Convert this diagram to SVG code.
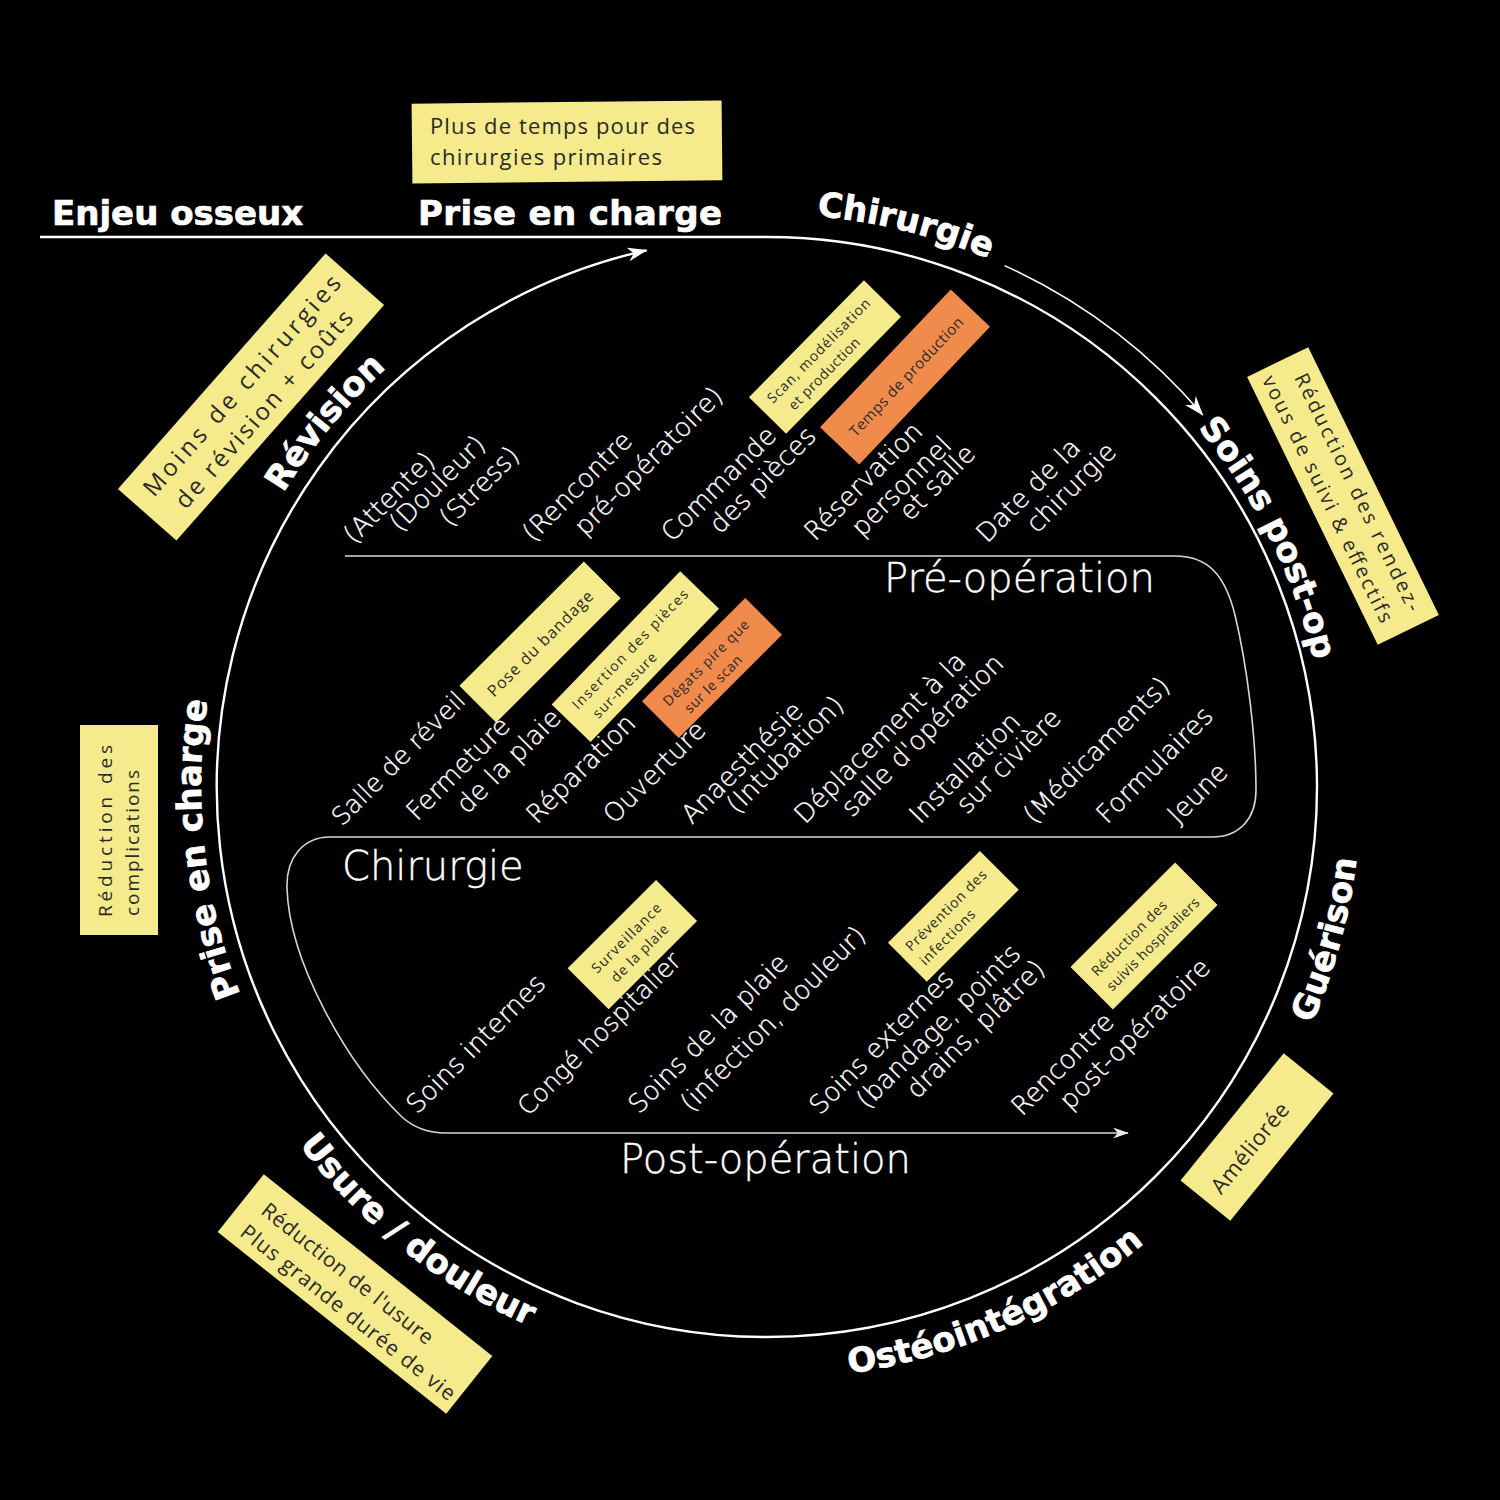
<svg xmlns="http://www.w3.org/2000/svg" width="1500" height="1500" viewBox="0 0 1500 1500">
<style>
.d{font-family:"DejaVu Sans","Liberation Sans",sans-serif;font-weight:200;font-size:26px;fill:#fff;stroke:#fff;stroke-width:0.35px}
.big{font-family:"DejaVu Sans","Liberation Sans",sans-serif;font-weight:200;font-size:40px;fill:#fff;stroke:#fff;stroke-width:0.4px}
.ttl{font-family:"DejaVu Sans","Liberation Sans",sans-serif;font-weight:700;font-size:34px;fill:#fff;stroke:#fff;stroke-width:0.7px}
.y{fill:#f6eb8c}
.o{fill:#f08b4b}
.nt{font-family:"Open Sans","Liberation Sans",sans-serif;font-weight:400;fill:#2a2a2a}
.ln{fill:none;stroke:#fff}
</style>
<defs>
<marker id="ah" viewBox="0 0 20 14" refX="19" refY="7" markerWidth="20" markerHeight="14" orient="auto" markerUnits="userSpaceOnUse"><path d="M0,0 L20,7 L0,14 L6,7 z" fill="#fff"/></marker>
<marker id="ahs" viewBox="0 0 20 14" refX="19" refY="7" markerWidth="16" markerHeight="11" orient="auto" markerUnits="userSpaceOnUse"><path d="M0,0 L20,7 L0,14 L6,7 z" fill="#e6e6e6"/></marker>
<path id="pChir" d="M816.9,216.2 A573,573 0 0 1 1095.7,317.6"/>
<path id="pSoins" d="M1198,427.9 A561,561 0 0 1 1328,787"/>
<path id="pGuer" d="M1311.8,1023.8 A594,594 0 0 0 1352,683.9"/>
<path id="pOst" d="M849.4,1373.3 A592,592 0 0 0 1220.5,1167.5"/>
<path id="pUsure" d="M299.1,1144.8 A589,589 0 0 0 664.7,1367"/>
<path id="pPrise" d="M240.4,994.4 A566,566 0 0 1 235.1,593.4"/>
<path id="pRev" d="M283.4,493 A566,566 0 0 1 484,296.8"/>
</defs>
<rect width="1500" height="1500" fill="#000"/>

<g id="connectors">
<path class="ln" stroke-width="2.4" d="M40,237 H767 A550,550 0 0 1 1317,787 A550,550 0 0 1 767,1337 A550,550 0 0 1 646.5,250.3" marker-end="url(#ah)"/>
<path class="ln" stroke-width="1.5" d="M1004.6,265.6 A573,573 0 0 1 1202.7,414.9" marker-end="url(#ah)"/>
<path fill="none" stroke="#d8d8d8" stroke-width="1.6" d="M345,556 H1175 C1208,556 1225,575 1235,615 C1248,670 1256,740 1256,790 C1256,818 1240,837 1212,837 H330 C303,837 286,858 287,888 C289,960 345,1062 402,1117 C414,1128 428,1133 446,1133 H1128" marker-end="url(#ahs)"/>
</g>

<g id="titles">
<text class="ttl" x="52" y="225">Enjeu osseux</text>
<text class="ttl" x="418" y="225" textLength="304">Prise en charge</text>
<text class="ttl"><textPath href="#pChir">Chirurgie</textPath></text>
<text class="ttl"><textPath href="#pSoins">Soins post-op</textPath></text>
<text class="ttl"><textPath href="#pGuer">Guérison</textPath></text>
<text class="ttl"><textPath href="#pOst">Ostéointégration</textPath></text>
<text class="ttl"><textPath href="#pUsure">Usure / douleur</textPath></text>
<text class="ttl"><textPath href="#pPrise">Prise en charge</textPath></text>
<text class="ttl"><textPath href="#pRev">Révision</textPath></text>
</g>

<g id="phases">
<text class="big" x="884" y="592">Pré-opération</text>
<text class="big" x="342" y="880">Chirurgie</text>
<text class="big" x="620" y="1173">Post-opération</text>
</g>

<g id="preop-steps">
<text class="d" transform="translate(354,545) rotate(-45)">(Attente)</text>
<text class="d" transform="translate(400,533) rotate(-45)">(Douleur)</text>
<text class="d" transform="translate(450,528) rotate(-45)">(Stress)</text>
<text class="d" transform="translate(533,543) rotate(-45)">(Rencontre</text>
<text class="d" transform="translate(585,537) rotate(-45)">pré-opératoire)</text>
<text class="d" transform="translate(672,543) rotate(-45)">Commande</text>
<text class="d" transform="translate(720,535) rotate(-45)">des pièces</text>
<text class="d" transform="translate(815,542) rotate(-45)">Réservation</text>
<text class="d" transform="translate(862,538) rotate(-45)">personnel</text>
<text class="d" transform="translate(910,522) rotate(-45)">et salle</text>
<text class="d" transform="translate(987,544) rotate(-45)">Date de la</text>
<text class="d" transform="translate(1037,534) rotate(-45)">chirurgie</text>
</g>

<g id="chir-steps">
<text class="d" font-size="25" style="font-size:25px" transform="translate(342,827) rotate(-45)">Salle de réveil</text>
<text class="d" transform="translate(417,822) rotate(-45)">Fermeture</text>
<text class="d" transform="translate(467,815) rotate(-45)">de la plaie</text>
<text class="d" transform="translate(537,825) rotate(-45)">Réparation</text>
<text class="d" transform="translate(614,825) rotate(-45)">Ouverture</text>
<text class="d" transform="translate(692,825) rotate(-45)">Anaesthésie</text>
<text class="d" transform="translate(737,815) rotate(-45)">(Intubation)</text>
<text class="d" transform="translate(805,825) rotate(-45)">Déplacement à la</text>
<text class="d" transform="translate(852,818) rotate(-45)">salle d'opération</text>
<text class="d" transform="translate(920,825) rotate(-45)">Installation</text>
<text class="d" transform="translate(967,815) rotate(-45)">sur civière</text>
<text class="d" transform="translate(1034,825) rotate(-45)">(Médicaments)</text>
<text class="d" transform="translate(1107,825) rotate(-45)">Formulaires</text>
<text class="d" transform="translate(1178,825) rotate(-45)">Jeune</text>
</g>

<g id="postop-steps">
<text class="d" transform="translate(417,1115) rotate(-45)">Soins internes</text>
<text class="d" style="font-size:25px" transform="translate(528,1117) rotate(-45)">Congé hospitalier</text>
<text class="d" transform="translate(639,1115) rotate(-45)">Soins de la plaie</text>
<text class="d" transform="translate(691,1113) rotate(-45)">(infection, douleur)</text>
<text class="d" transform="translate(820,1116) rotate(-45)">Soins externes</text>
<text class="d" transform="translate(867,1110) rotate(-45)">(bandage, points</text>
<text class="d" transform="translate(917,1100) rotate(-45)">drains, plâtre)</text>
<text class="d" transform="translate(1022,1117) rotate(-45)">Rencontre</text>
<text class="d" transform="translate(1070,1111) rotate(-45)">post-opératoire</text>
</g>

<g id="note-plus">
<rect class="y" x="412" y="102" width="310" height="80" transform="rotate(-0.6 567 142)"/>
<text class="nt" font-size="22" x="430" y="134" textLength="265">Plus de temps pour des</text>
<text class="nt" font-size="22" x="430" y="165" textLength="232">chirurgies primaires</text>
</g>

<g id="note-moins" transform="translate(251,397) rotate(-48.6)">
<rect class="y" x="-157" y="-39" width="314" height="78"/>
<text class="nt" font-size="24" x="-140" y="-6" textLength="285">Moins de chirurgies</text>
<text class="nt" font-size="24" x="-128" y="26" textLength="255">de révision + coûts</text>
</g>

<g id="note-scan" transform="translate(825,357) rotate(-45.5)">
<rect class="y" x="-82" y="-26" width="164" height="52"/>
<text class="nt" font-size="14" x="-70" y="-4" textLength="140">Scan, modélisation</text>
<text class="nt" font-size="14" x="-60" y="16" textLength="95">et production</text>
</g>

<g id="note-temps" transform="translate(905,377) rotate(-46.5)">
<rect class="o" x="-95" y="-27" width="190" height="54"/>
<text class="nt" font-size="15" x="-78" y="6" textLength="158">Temps de production</text>
</g>

<g id="note-rdv" transform="translate(1343,496) rotate(64)">
<rect class="y" x="-149" y="-34" width="298" height="68"/>
<text class="nt" font-size="20" x="-128" y="-8" textLength="262">Réduction des rendez-</text>
<text class="nt" font-size="20" x="-140" y="22" textLength="272">vous de suivi &amp; effectifs</text>
</g>

<g id="note-compl" transform="translate(119,830) rotate(-90)">
<rect class="y" x="-105" y="-39" width="210" height="78"/>
<text class="nt" font-size="19" x="-87" y="-7" textLength="172">Réduction des</text>
<text class="nt" font-size="19" x="-86" y="20" textLength="146">complications</text>
</g>

<g id="note-usure" transform="translate(355,1294) rotate(38.5)">
<rect class="y" x="-146" y="-37" width="292" height="74"/>
<text class="nt" font-size="21" x="-125" y="-4" textLength="213">Réduction de l'usure</text>
<text class="nt" font-size="21" x="-128" y="26" textLength="268">Plus grande durée de vie</text>
</g>

<g id="note-amel" transform="translate(1257,1137) rotate(-51)">
<rect class="y" x="-82" y="-32" width="164" height="64"/>
<text class="nt" font-size="22" x="-68" y="9" textLength="110">Améliorée</text>
</g>

<g id="note-pose" transform="translate(540,642) rotate(-45)">
<rect class="y" x="-88" y="-26" width="176" height="52"/>
<text class="nt" font-size="16" x="-72" y="7" textLength="142">Pose du bandage</text>
</g>

<g id="note-insert" transform="translate(635,657) rotate(-46)">
<rect class="y" x="-92" y="-27" width="185" height="54"/>
<text class="nt" font-size="14" x="-78" y="-4" textLength="160">Insertion des pièces</text>
<text class="nt" font-size="14" x="-70" y="17" textLength="85">sur-mesure</text>
</g>

<g id="note-degats" transform="translate(712,668) rotate(-45)">
<rect class="o" x="-73" y="-26" width="146" height="52"/>
<text class="nt" font-size="14" x="-58" y="-3" textLength="115">Dégats pire que</text>
<text class="nt" font-size="14" x="-48" y="17" textLength="75">sur le scan</text>
</g>

<g id="note-surv" transform="translate(632,945) rotate(-45)">
<rect class="y" x="-62" y="-29" width="125" height="58"/>
<text class="nt" font-size="14" x="-45" y="-4" textLength="92">Surveillance</text>
<text class="nt" font-size="14" x="-38" y="16" textLength="75">de la plaie</text>
</g>

<g id="note-prev" transform="translate(953,916) rotate(-45)">
<rect class="y" x="-65" y="-27" width="130" height="55"/>
<text class="nt" font-size="14" x="-55" y="-4" textLength="108">Prévention des</text>
<text class="nt" font-size="14" x="-55" y="16" textLength="72">infections</text>
</g>

<g id="note-suivis" transform="translate(1144,936) rotate(-45)">
<rect class="y" x="-74" y="-30" width="148" height="60"/>
<text class="nt" font-size="14" x="-62" y="-4" textLength="100">Réduction des</text>
<text class="nt" font-size="14" x="-62" y="17" textLength="125">suivis hospitaliers</text>
</g>
</svg>
